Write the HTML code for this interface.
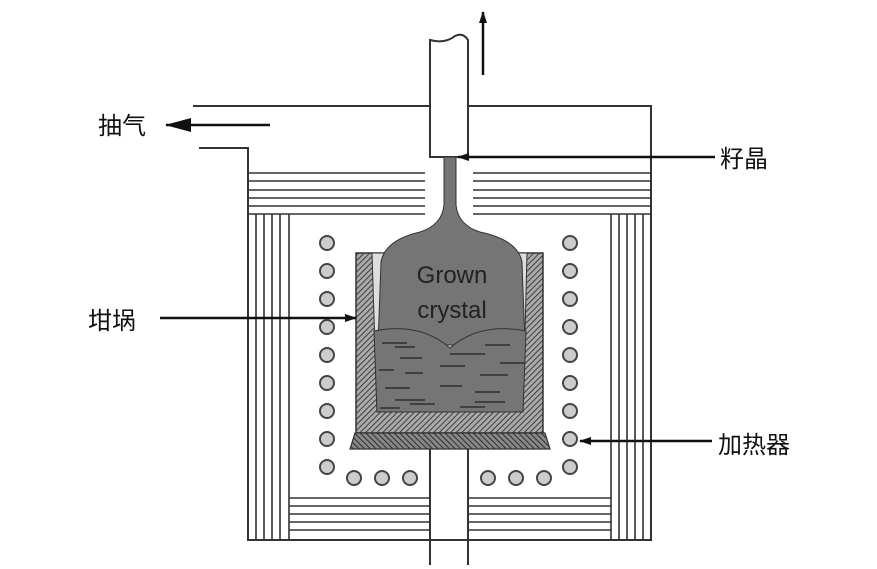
<!DOCTYPE html>
<html><head><meta charset="utf-8"><style>body{margin:0;background:#fff}svg{display:block}</style></head><body>
<svg width="877" height="569" viewBox="0 0 877 569" xmlns="http://www.w3.org/2000/svg">
<defs>
<pattern id="h" width="4" height="4" patternUnits="userSpaceOnUse" patternTransform="rotate(45)">
<rect width="4" height="4" fill="#aaa"/><line x1="0" y1="0" x2="0" y2="4" stroke="#222" stroke-width="1.6"/></pattern>
<pattern id="h2" width="4" height="4" patternUnits="userSpaceOnUse" patternTransform="rotate(-45)">
<rect width="4" height="4" fill="#888"/><line x1="0" y1="0" x2="0" y2="4" stroke="#222" stroke-width="1.8"/></pattern>
<marker id="a" markerWidth="12" markerHeight="8" refX="11" refY="4" orient="auto" markerUnits="userSpaceOnUse"><path d="M0,0 L12,4 L0,8z" fill="#111"/></marker>
<marker id="b" markerWidth="26" markerHeight="14" refX="25" refY="7" orient="auto" markerUnits="userSpaceOnUse"><path d="M0,0 L26,7 L0,14z" fill="#111"/></marker>
</defs>
<g stroke="#333" stroke-width="2" fill="none">
<path d="M193,106 H430 M468,106 H651 V540 H248 V148 H199"/>
<g stroke-width="1.6">
<path d="M248,173H425M248,181H425M248,190H425M248,198H425M248,206H425M248,214H425"/>
<path d="M473,173H651M473,181H651M473,190H651M473,198H651M473,206H651M473,214H651"/>
<path d="M256,214V540M264,214V540M272,214V540M280,214V540M289,214V540"/>
<path d="M611,214V540M619,214V540M627,214V540M635,214V540M643,214V540"/>
<path d="M289,498H430M289,506H430M289,514H430M289,522H430M289,530H430"/>
<path d="M468,498H611M468,506H611M468,514H611M468,522H611M468,530H611"/>
</g>
<path d="M430,157V40 Q445,44 455,36 Q463,32 468,40 V157Z" fill="#fff"/>
<path d="M430,449V565 M468,449V565"/>
</g>
<line x1="483" y1="75" x2="483" y2="12" stroke="#111" stroke-width="2.5" marker-end="url(#a)"/>
<rect x="356" y="253" width="187" height="180" fill="url(#h)" stroke="#333" stroke-width="1.5"/>
<path d="M372,253 H527 L523,412 H377Z" fill="#ddd" stroke="#333" stroke-width="1"/>
<path d="M350,449 L355,433 H545 L550,449Z" fill="url(#h2)" stroke="#333" stroke-width="1.2"/>
<path d="M444,157 H456 V205 Q458,225 480,232 Q518,240 522,262 L525,345 H378 L381,262 Q385,240 420,232 Q442,225 444,205Z" fill="#757575" stroke="#333" stroke-width="1"/>
<path d="M374,331 Q420,322 450,348 Q480,322 526,331 L523,412 H377Z" fill="#757575" stroke="#333" stroke-width="1"/>
<g stroke="#222" stroke-width="1.3">
<path d="M382,343h25M395,347h20M400,358h22M450,354h35M485,345h25M379,370h15M405,373h18M440,366h25M480,375h28M500,363h25M385,388h25M440,386h22M475,392h25M395,400h30M410,404h25M475,402h30M380,408h20M460,407h25"/>
</g>
<text x="452" y="283" font-family="Liberation Sans, sans-serif" font-size="24" fill="#222" text-anchor="middle">Grown</text>
<text x="452" y="318" font-family="Liberation Sans, sans-serif" font-size="24" fill="#222" text-anchor="middle">crystal</text>
<g fill="#ccc" stroke="#444" stroke-width="2">
<circle cx="327" cy="243" r="7"/><circle cx="327" cy="271" r="7"/><circle cx="327" cy="299" r="7"/><circle cx="327" cy="327" r="7"/><circle cx="327" cy="355" r="7"/><circle cx="327" cy="383" r="7"/><circle cx="327" cy="411" r="7"/><circle cx="327" cy="439" r="7"/><circle cx="327" cy="467" r="7"/>
<circle cx="570" cy="243" r="7"/><circle cx="570" cy="271" r="7"/><circle cx="570" cy="299" r="7"/><circle cx="570" cy="327" r="7"/><circle cx="570" cy="355" r="7"/><circle cx="570" cy="383" r="7"/><circle cx="570" cy="411" r="7"/><circle cx="570" cy="439" r="7"/><circle cx="570" cy="467" r="7"/>
<circle cx="354" cy="478" r="7"/><circle cx="382" cy="478" r="7"/><circle cx="410" cy="478" r="7"/>
<circle cx="488" cy="478" r="7"/><circle cx="516" cy="478" r="7"/><circle cx="544" cy="478" r="7"/>
</g>
<g stroke="#111" stroke-width="2.5">
<line x1="270" y1="125" x2="166" y2="125" marker-end="url(#b)"/>
<line x1="715" y1="157" x2="458" y2="157" marker-end="url(#a)"/>
<line x1="160" y1="318" x2="356" y2="318" marker-end="url(#a)"/>
<line x1="712" y1="441" x2="580" y2="441" marker-end="url(#a)"/>
</g>
<g font-family="Liberation Sans, Noto Sans CJK SC, sans-serif" font-size="24" fill="#111">
<text x="98" y="134">抽气</text>
<text x="720" y="167">籽晶</text>
<text x="88" y="329">坩埚</text>
<text x="718" y="453">加热器</text>
</g>
</svg>
</body></html>
